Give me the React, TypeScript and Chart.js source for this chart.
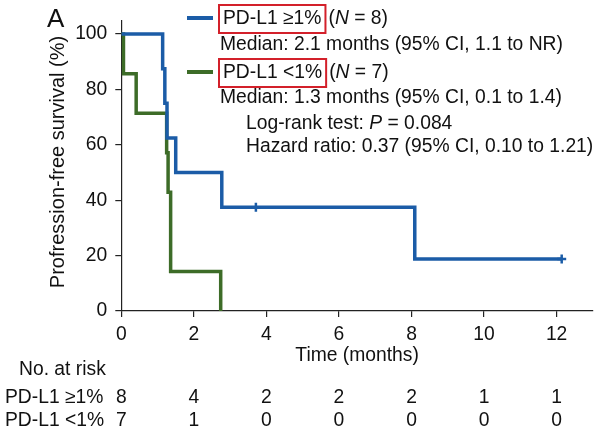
import React, { useEffect, useRef } from "react";
import { Chart, registerables } from "chart.js";

Chart.register(...registerables);

// ---- data ----
const highTimes = [0, 1.14, 1.2, 1.26, 1.5, 2.77, 8.09, 12.14];
const highSurv = [100, 87.5, 75, 62.5, 50, 37.5, 18.75, 18.75];
const lowTimes = [0, 0.06, 0.41, 1.25, 1.29, 1.36, 2.74];
const lowSurv = [100, 85.7, 71.4, 57.1, 42.9, 14.3, 0];
const censorTimes = [3.71, 12.14];
const censorSurv = [37.5, 18.75];

const xTicks = [0, 2, 4, 6, 8, 10, 12];
const yTicks = [0, 20, 40, 60, 80, 100];
const riskTimes = [0, 2, 4, 6, 8, 10, 12];
const riskHigh = [8, 4, 2, 2, 2, 1, 1];
const riskLow = [7, 1, 0, 0, 0, 0, 0];

const groupHigh = "PD-L1 \u22651%";
const groupLow = "PD-L1 <1%";
const medianHigh = "Median: 2.1 months (95% CI, 1.1 to NR)";
const medianLow = "Median: 1.3 months (95% CI, 0.1 to 1.4)";
const hazardText = "Hazard ratio: 0.37 (95% CI, 0.10 to 1.21)";

const BLUE = "#1b5ca7";
const GREEN = "#3d6c28";
const RED = "#d3202a";
const AXIS = "#222222";
const TEXT = "#111111";
const FONT = '"Liberation Sans", Arial, Helvetica, sans-serif';

function font(size: number, italic = false) {
  return `${italic ? "italic " : ""}${size}px ${FONT}`;
}

function drawRuns(ctx: CanvasRenderingContext2D, runs: [string, boolean][], x: number, y: number, size: number) {
  let cx = x;
  for (const [s, it] of runs) {
    ctx.font = font(size, it);
    ctx.fillText(s, cx, y);
    cx += ctx.measureText(s).width;
  }
}

const overlay = {
  id: "overlay",
  afterDraw(chart: any) {
    const ctx: CanvasRenderingContext2D = chart.ctx;
    const xs = chart.scales.x;
    ctx.save();
    ctx.fillStyle = TEXT;
    ctx.textBaseline = "middle";
    ctx.textAlign = "left";

    // panel letter
    ctx.font = font(26);
    ctx.textBaseline = "alphabetic";
    ctx.fillText("A", 47, 27);
    ctx.textBaseline = "middle";

    // legend
    const S = 19.3;
    const legend = [
      { color: BLUE, y: 18, label: groupHigh, n: "8", median: medianHigh, my: 45 },
      { color: GREEN, y: 72, label: groupLow, n: "7", median: medianLow, my: 98 },
    ];
    for (const l of legend) {
      ctx.strokeStyle = l.color;
      ctx.lineWidth = 4;
      ctx.beginPath();
      ctx.moveTo(187, l.y);
      ctx.lineTo(213, l.y);
      ctx.stroke();
      ctx.fillStyle = TEXT;
      ctx.font = font(S);
      ctx.fillText(l.label, 223, l.y + 1);
      const w = ctx.measureText(l.label).width;
      ctx.strokeStyle = RED;
      ctx.lineWidth = 2;
      ctx.strokeRect(219, l.y - 13, w + 8, 28);
      drawRuns(ctx, [["(", false], ["N", true], [" = " + l.n + ")", false]], 223 + w + 7, l.y + 1, S);
      ctx.font = font(S);
      ctx.fillText(l.median, 220, l.my);
    }
    drawRuns(ctx, [["Log-rank test: ", false], ["P", true], [" = 0.084", false]], 246, 124, S);
    ctx.font = font(S);
    ctx.fillText(hazardText, 246, 147);

    // axis titles
    ctx.font = font(S);
    ctx.textAlign = "center";
    ctx.fillText("Time (months)", (chart.chartArea.left + chart.chartArea.right) / 2, 356);
    ctx.save();
    ctx.translate(58, 162);
    ctx.rotate(-Math.PI / 2);
    ctx.font = font(20);
    ctx.fillText("Profression-free survival (%)", 0, 0);
    ctx.restore();

    // risk table
    ctx.textAlign = "left";
    ctx.font = font(S);
    ctx.fillText("No. at risk", 19, 370);
    ctx.fillText(groupHigh, 5, 398);
    ctx.fillText(groupLow, 5, 421);
    ctx.textAlign = "center";
    riskTimes.forEach((t, i) => {
      const px = xs.getPixelForValue(t);
      ctx.fillText(String(riskHigh[i]), px, 398);
      ctx.fillText(String(riskLow[i]), px, 421);
    });
    ctx.restore();
  },
};

export default function App() {
  const ref = useRef<HTMLCanvasElement>(null);
  useEffect(() => {
    if (!ref.current) return;
    const pts = (ts: number[], vs: number[]) => ts.map((t, i) => ({ x: t, y: vs[i] }));
    const chart = new Chart(ref.current, {
      type: "line",
      data: {
        datasets: [
          {
            label: "censor",
            data: pts(censorTimes, censorSurv),
            showLine: false,
            pointStyle: "cross",
            pointRadius: 4.5,
            pointBorderWidth: 2.5,
            pointBorderColor: BLUE,
            pointBackgroundColor: BLUE,
            borderColor: BLUE,
          },
          {
            label: groupHigh,
            data: pts(highTimes, highSurv),
            stepped: "before",
            borderColor: BLUE,
            borderWidth: 3.5,
            pointRadius: 0,
            fill: false,
          },
          {
            label: groupLow,
            data: pts(lowTimes, lowSurv),
            stepped: "before",
            borderColor: GREEN,
            borderWidth: 3.5,
            pointRadius: 0,
            fill: false,
          },
        ],
      } as any,
      options: {
        animation: false,
        responsive: false,
        devicePixelRatio: 1,
        layout: { padding: { left: 0, right: 7.1, top: 20.2, bottom: 0 } },
        plugins: { legend: { display: false }, tooltip: { enabled: false } },
        scales: {
          x: {
            type: "linear",
            min: 0,
            max: 13,
            afterBuildTicks: (s: any) => {
              s.ticks = xTicks.map((v) => ({ value: v }));
            },
            afterFit: (s: any) => {
              s.height = 125;
            },
            grid: { drawOnChartArea: false, drawTicks: true, tickLength: 6, color: AXIS, lineWidth: 1.2 },
            border: { display: true, color: AXIS, width: 1.2 },
            ticks: { color: TEXT, font: { family: FONT, size: 19.3 }, padding: 6, maxRotation: 0 },
          },
          y: {
            type: "linear",
            min: 0,
            max: 105,
            afterBuildTicks: (s: any) => {
              s.ticks = yTicks.map((v) => ({ value: v }));
            },
            afterFit: (s: any) => {
              s.width = 121.3;
            },
            grid: { drawOnChartArea: false, drawTicks: true, tickLength: 6, color: AXIS, lineWidth: 1.2 },
            border: { display: true, color: AXIS, width: 1.2 },
            ticks: { color: TEXT, font: { family: FONT, size: 19.3 }, padding: 8 },
          },
        },
      } as any,
      plugins: [overlay],
    });
    return () => chart.destroy();
  }, []);
  return (
    <div style={{ position: "absolute", left: 0, top: 0, width: 600, height: 436, background: "#fff" }}>
      <canvas ref={ref} width={600} height={436} style={{ display: "block" }} />
    </div>
  );
}
